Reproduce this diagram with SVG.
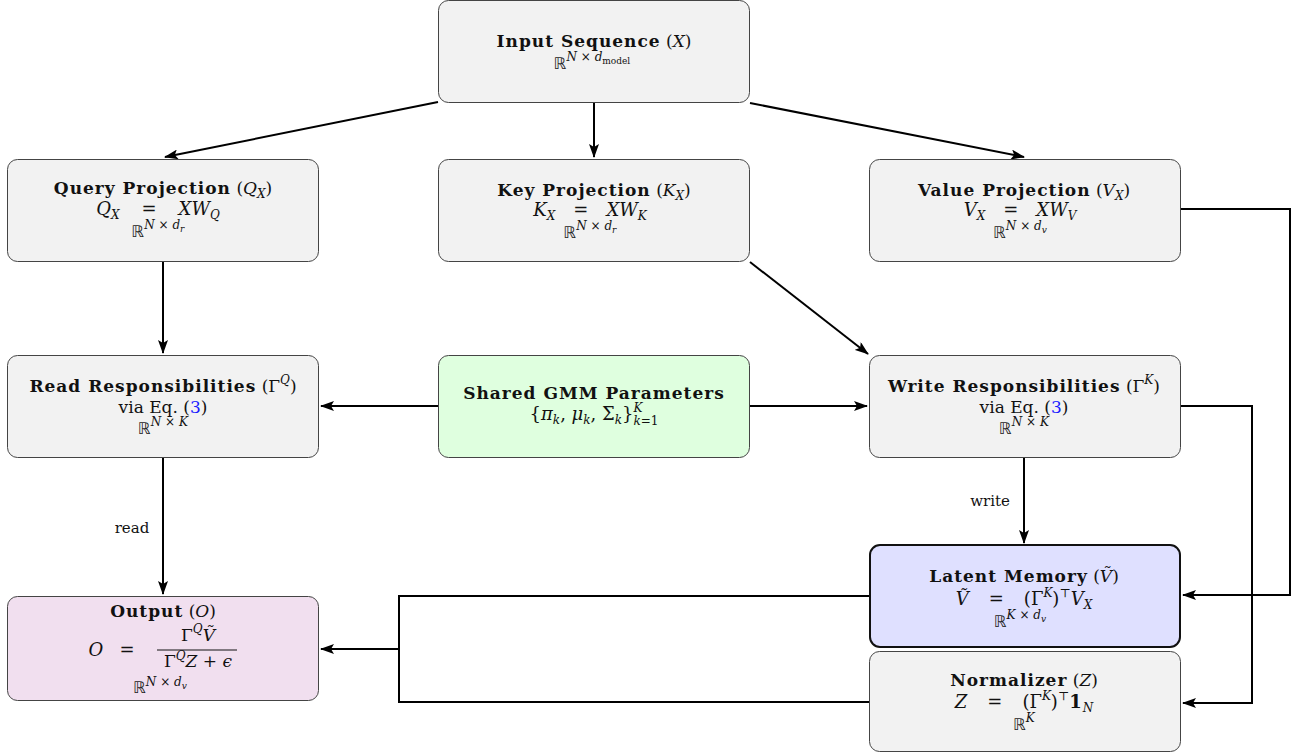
<svg xmlns="http://www.w3.org/2000/svg" width="1304" height="755" viewBox="0 0 1304 755">
<defs>
<marker id="ah" markerWidth="14" markerHeight="10" refX="13" refY="5" orient="auto" markerUnits="userSpaceOnUse">
<path d="M0,0 L14,5 L0,10 L3,5 Z" fill="#000"/>
</marker>
<style>
.box{fill:#f2f2f2;stroke:#444;stroke-width:1}
.gmm{fill:#dfffdf;stroke:#444;stroke-width:1}
.out{fill:#f1dfef;stroke:#444;stroke-width:1}
.mem{fill:#dfe0ff;stroke:#111;stroke-width:2}
.c{fill:none;stroke:#000;stroke-width:2}
.ca{fill:none;stroke:#000;stroke-width:2;marker-end:url(#ah)}
text{font-family:"DejaVu Serif","Liberation Serif",serif;fill:#111;text-anchor:middle}
.t{font-size:17px}
.e{font-size:18px}
.f{font-size:17px}
.b{font-weight:bold;letter-spacing:1px}
.i{font-style:italic}
.r{font-size:16px}
.bb{font-family:"DejaVu Sans",sans-serif;fill:#222}
.s{font-size:12px}
.ss{font-size:9px}
.lbl{font-size:15px}
</style>
</defs>
<g id="connectors">
<path class="ca" d="M438,102 L165,157"/>
<path class="ca" d="M594,103 L594,157"/>
<path class="ca" d="M750,103 L1024,157"/>
<path class="ca" d="M163,262 L163,353"/>
<path class="ca" d="M750,262 L868,354"/>
<path class="ca" d="M438,406 L321,406"/>
<path class="ca" d="M750,406 L867,406"/>
<path class="ca" d="M1181,209 L1290,209 L1290,595 L1183,595"/>
<path class="ca" d="M1181,406 L1252,406 L1252,703 L1183,703"/>
<path class="ca" d="M1024,458 L1024,543"/>
<path class="ca" d="M163,458 L163,594"/>
<path class="c" d="M869,596 L399,596 L399,702 L869,702"/>
<path class="ca" d="M399,649 L321,649"/>
<text class="lbl" x="990" y="506">write</text>
<text class="lbl" x="132" y="533">read</text>
</g>
<g id="input">
<rect class="box" x="438.5" y="0.5" width="311" height="102" rx="10"/>
<text class="t" x="594" y="47"><tspan class="b">Input Sequence</tspan> (<tspan class="i">X</tspan>)</text>
<text class="r" x="592" y="69"><tspan class="bb">ℝ</tspan><tspan class="s i" dy="-8">N</tspan><tspan class="s"> × </tspan><tspan class="s i">d</tspan><tspan class="ss" dy="3">model</tspan></text>
</g>
<g id="query">
<rect class="box" x="7.5" y="159.5" width="311" height="102" rx="10"/>
<text class="t" x="163" y="194"><tspan class="b">Query Projection</tspan> (<tspan class="i">Q</tspan><tspan class="s i" dy="4">X</tspan><tspan dy="-4">)</tspan></text>
<text class="e" x="158" y="215"><tspan class="i">Q</tspan><tspan class="s i" dy="4">X</tspan><tspan dy="-4" dx="22">=</tspan><tspan class="i" dx="22">XW</tspan><tspan class="s i" dy="4">Q</tspan></text>
<text class="r" x="158" y="237"><tspan class="bb">ℝ</tspan><tspan class="s i" dy="-8">N</tspan><tspan class="s"> × </tspan><tspan class="s i">d</tspan><tspan class="ss i" dy="3">r</tspan></text>
</g>
<g id="key">
<rect class="box" x="438.5" y="159.5" width="311" height="102" rx="10"/>
<text class="t" x="594" y="196"><tspan class="b">Key Projection</tspan> (<tspan class="i">K</tspan><tspan class="s i" dy="4">X</tspan><tspan dy="-4">)</tspan></text>
<text class="e" x="590" y="216"><tspan class="i">K</tspan><tspan class="s i" dy="4">X</tspan><tspan dy="-4" dx="18">=</tspan><tspan class="i" dx="18">XW</tspan><tspan class="s i" dy="4">K</tspan></text>
<text class="r" x="590" y="238"><tspan class="bb">ℝ</tspan><tspan class="s i" dy="-8">N</tspan><tspan class="s"> × </tspan><tspan class="s i">d</tspan><tspan class="ss i" dy="3">r</tspan></text>
</g>
<g id="value">
<rect class="box" x="869.5" y="159.5" width="311" height="102" rx="10"/>
<text class="t" x="1024" y="196"><tspan class="b">Value Projection</tspan> (<tspan class="i">V</tspan><tspan class="s i" dy="4">X</tspan><tspan dy="-4">)</tspan></text>
<text class="e" x="1020" y="216"><tspan class="i">V</tspan><tspan class="s i" dy="4">X</tspan><tspan dy="-4" dx="18">=</tspan><tspan class="i" dx="18">XW</tspan><tspan class="s i" dy="4">V</tspan></text>
<text class="r" x="1020" y="238"><tspan class="bb">ℝ</tspan><tspan class="s i" dy="-8">N</tspan><tspan class="s"> × </tspan><tspan class="s i">d</tspan><tspan class="ss i" dy="3">v</tspan></text>
</g>
<g id="read">
<rect class="box" x="7.5" y="355.5" width="311" height="102" rx="10"/>
<text class="t" x="163" y="392"><tspan class="b">Read Responsibilities</tspan> (Γ<tspan class="s i" dy="-8">Q</tspan><tspan dy="8">)</tspan></text>
<text class="t" x="163" y="413">via Eq. (<tspan fill="#1a1aff">3</tspan>)</text>
<text class="r" x="163" y="434"><tspan class="bb">ℝ</tspan><tspan class="s i" dy="-8">N</tspan><tspan class="s"> × </tspan><tspan class="s i">K</tspan></text>
</g>
<g id="gmm">
<rect class="gmm" x="438.5" y="355.5" width="311" height="102" rx="10"/>
<text class="t" x="594" y="399"><tspan class="b">Shared GMM Parameters</tspan></text>
<text class="e" x="594" y="420">{<tspan class="i">π</tspan><tspan class="s i" dy="4">k</tspan><tspan dy="-4">, </tspan><tspan class="i">μ</tspan><tspan class="s i" dy="4">k</tspan><tspan dy="-4">, Σ</tspan><tspan class="s i" dy="4">k</tspan><tspan dy="-4">}</tspan><tspan class="s i" dy="-8">K</tspan><tspan class="s" dx="-9" dy="13"><tspan class="i">k</tspan>=1</tspan></text>
</g>
<g id="write">
<rect class="box" x="869.5" y="355.5" width="311" height="102" rx="10"/>
<text class="t" x="1024" y="392"><tspan class="b">Write Responsibilities</tspan> (Γ<tspan class="s i" dy="-8">K</tspan><tspan dy="8">)</tspan></text>
<text class="t" x="1024" y="413">via Eq. (<tspan fill="#1a1aff">3</tspan>)</text>
<text class="r" x="1024" y="434"><tspan class="bb">ℝ</tspan><tspan class="s i" dy="-8">N</tspan><tspan class="s"> × </tspan><tspan class="s i">K</tspan></text>
</g>
<g id="memory">
<rect class="mem" x="870" y="545" width="310" height="102" rx="10"/>
<text class="t" x="1024" y="582"><tspan class="b">Latent Memory</tspan> (<tspan class="i">Ṽ</tspan>)</text>
<text class="e" x="1024" y="605"><tspan class="i">Ṽ</tspan><tspan dx="20">=</tspan><tspan dx="20">(Γ</tspan><tspan class="s i" dy="-8">K</tspan><tspan dy="8">)</tspan><tspan class="s" dy="-8">⊤</tspan><tspan class="i" dy="8">V</tspan><tspan class="s i" dy="4">X</tspan></text>
<text class="r" x="1020" y="627"><tspan class="bb">ℝ</tspan><tspan class="s i" dy="-8">K</tspan><tspan class="s"> × </tspan><tspan class="s i">d</tspan><tspan class="ss i" dy="3">v</tspan></text>
</g>
<g id="normalizer">
<rect class="box" x="869.5" y="651.5" width="311" height="100" rx="10"/>
<text class="t" x="1024" y="686"><tspan class="b">Normalizer</tspan> (<tspan class="i">Z</tspan>)</text>
<text class="e" x="1024" y="708"><tspan class="i">Z</tspan><tspan dx="20">=</tspan><tspan dx="20">(Γ</tspan><tspan class="s i" dy="-8">K</tspan><tspan dy="8">)</tspan><tspan class="s" dy="-8">⊤</tspan><tspan class="b" dy="8">1</tspan><tspan class="s i" dy="4">N</tspan></text>
<text class="r" x="1024" y="730"><tspan class="bb">ℝ</tspan><tspan class="s i" dy="-8">K</tspan></text>
</g>
<g id="output">
<rect class="out" x="7.5" y="596.5" width="311" height="104" rx="10"/>
<text class="t" x="163" y="617"><tspan class="b">Output</tspan> (<tspan class="i">O</tspan>)</text>
<text class="e i" x="96" y="656">O</text>
<text class="e" x="127" y="656">=</text>
<text class="f" x="198" y="641">Γ<tspan class="s i" dy="-8">Q</tspan><tspan class="i" dy="8">Ṽ</tspan></text>
<line x1="157" y1="650" x2="237" y2="650" stroke="#111" stroke-width="1"/>
<text class="f" x="198" y="667">Γ<tspan class="s i" dy="-7">Q</tspan><tspan class="i" dy="7">Z</tspan> + <tspan class="i">ϵ</tspan></text>
<text class="r" x="160" y="693"><tspan class="bb">ℝ</tspan><tspan class="s i" dy="-7">N</tspan><tspan class="s"> × </tspan><tspan class="s i">d</tspan><tspan class="ss i" dy="3">v</tspan></text>
</g>
</svg>
